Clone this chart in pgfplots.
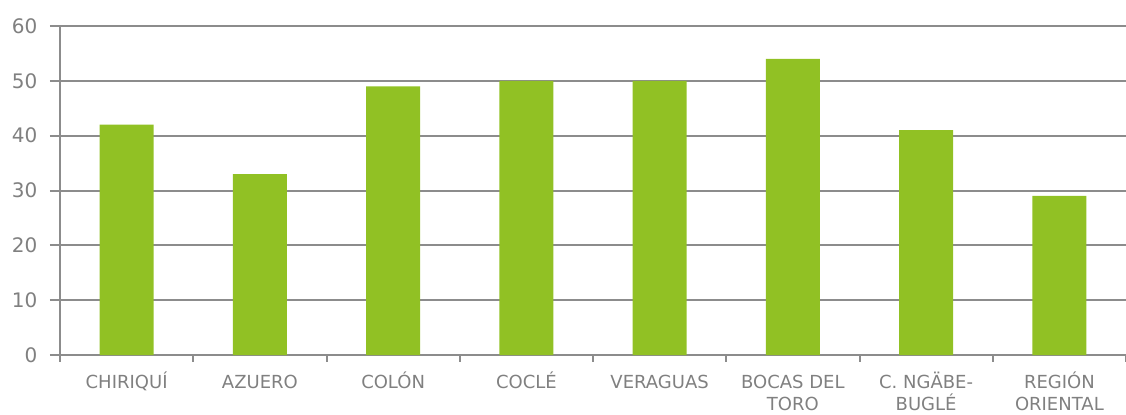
\documentclass[border=0pt]{standalone}
\usepackage{fontspec}
\setmainfont{DejaVu Sans}
\usepackage{pgfplots}
\pgfplotsset{compat=1.18}
\definecolor{bargreen}{RGB}{145,193,36}
\definecolor{txtgray}{RGB}{128,128,128}
\definecolor{linegray}{RGB}{140,140,140}
\newcommand\st{\rule{0pt}{13pt}}
\begin{document}
\begin{tikzpicture}
\path[use as bounding box] (-45pt,-44.25pt) rectangle (799.5pt,266.25pt);
\begin{axis}[
  at={(0,0)}, anchor=south west,
  width=799.5pt, height=246.75pt, scale only axis,
  xmin=-0.5, xmax=7.5, ymin=0, ymax=60,
  ytick={0,10,...,60},
  xtick={0,...,7},
  xticklabels={\st CHIRIQUÍ,\st AZUERO,\st COLÓN,\st COCLÉ,\st VERAGUAS,\st BOCAS DEL\\TORO,\st C. NGÄBE-\\BUGLÉ,\st REGIÓN\\ORIENTAL},
  minor xtick={-0.5,0.5,...,7.5},
  axis x line*=bottom, axis y line*=left,
  axis line style={linegray, line width=1.5pt, -},
  ymajorgrids, grid style={linegray, line width=1.5pt},
  major x tick style={draw=none},
  minor x tick style={linegray, line width=1.5pt},
  minor tick length=5pt,
  major y tick style={linegray, line width=1.5pt},
  major tick length=7.5pt,
  tick align=outside,
  x tick label style={font=\fontsize{13.5}{16.5}\selectfont, text=txtgray, align=center, yshift=-1pt},
  y tick label style={font=\fontsize{15}{17}\selectfont, text=txtgray, xshift=-6pt},
  /pgf/number format/assume math mode=true,
  ybar, bar width=40.5pt,
  clip=false,
]
\addplot[fill=bargreen, draw=none] coordinates {(0,42) (1,33) (2,49) (3,50) (4,50) (5,54) (6,41) (7,29)};
\end{axis}
\end{tikzpicture}
\end{document}
